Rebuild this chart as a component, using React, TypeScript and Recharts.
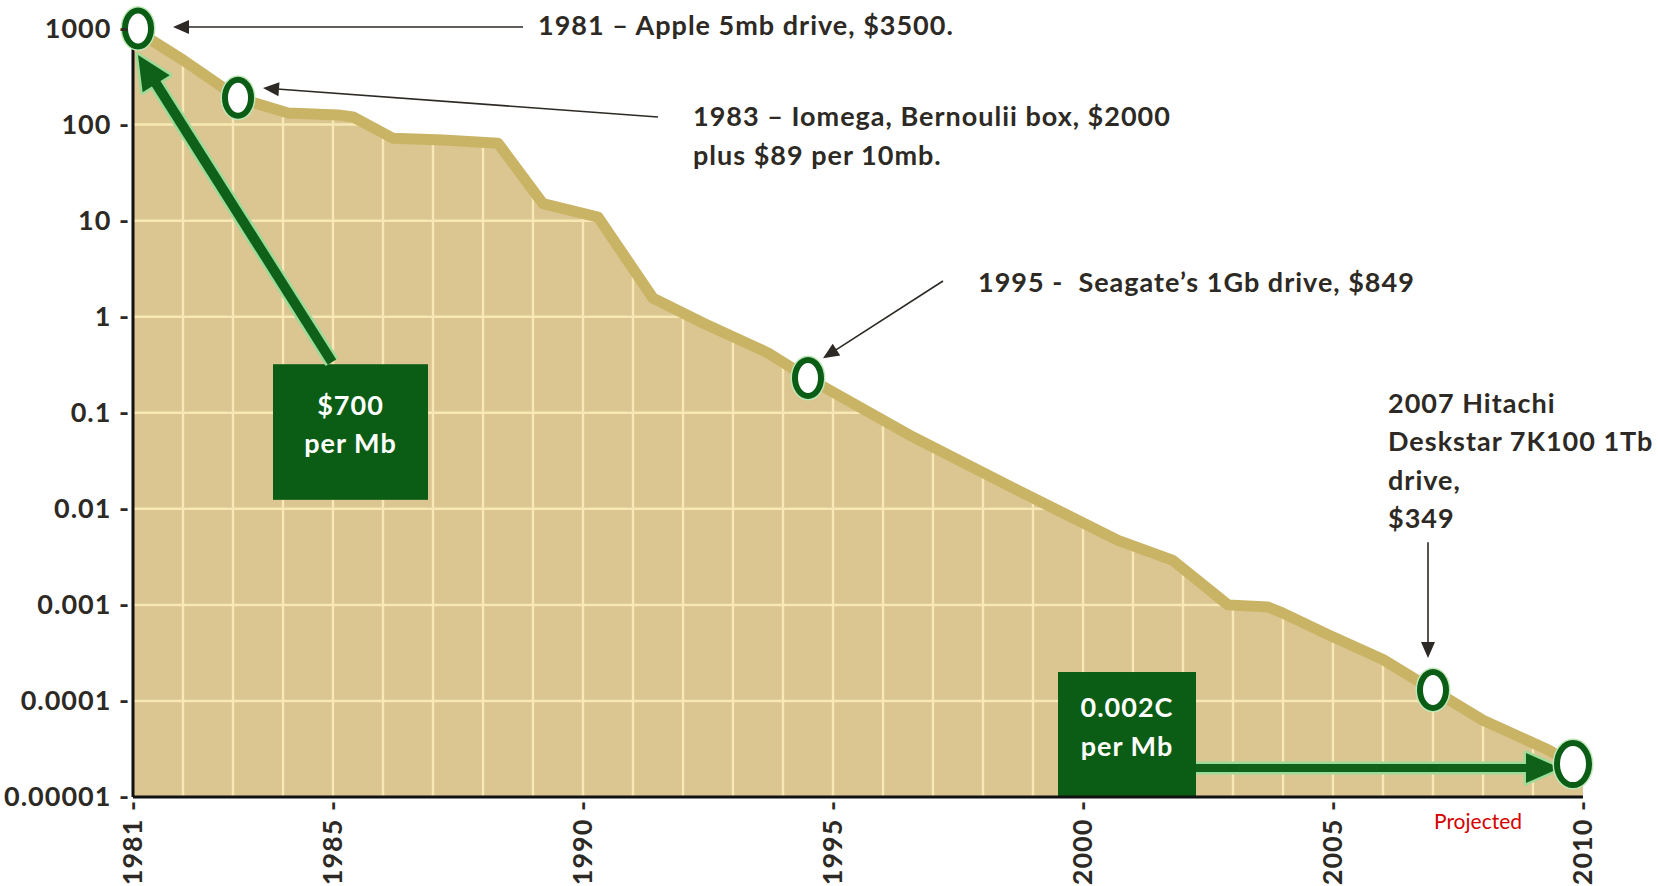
import React from 'react';
import {
  ComposedChart,
  Area,
  Line,
  Scatter,
  XAxis,
  YAxis,
  CartesianGrid,
  ReferenceLine,
  ReferenceArea,
  ReferenceDot,
} from 'recharts';

// price per megabyte (log scale)
const years = [
  1981, 1982, 1983.1, 1984.1, 1985.1, 1985.4, 1986.2, 1987.2, 1988.3, 1989.2, 1990.3, 1991.4, 1992.4, 1993.7,
  1994.5, 1996.6, 1998.6, 2000.7, 2001.8, 2002.9, 2003.7, 2004, 2004.9, 2006, 2007, 2008, 2009.3, 2009.8, 2010,
];
const pricePerMb = [
  1000, 470, 190, 132, 126, 120, 72, 69, 64, 15, 10.9, 1.56, 0.86, 0.42,
  0.23, 0.056, 0.0165, 0.0047, 0.0029, 0.001, 0.00095, 0.00082, 0.00049, 0.00027, 0.00013, 0.000063, 0.000031, 0.000022, 0.00002,
];

// highlighted drives
const milestoneYears = [1981.1, 1983.1, 1994.5, 2007, 2009.8];
const milestonePrices = [1000, 190, 0.23, 0.00013, 0.000022];

const xTicks = [1981, 1985, 1990, 1995, 2000, 2005, 2010];
const yTicks = [1000, 100, 10, 1, 0.1, 0.01, 0.001, 0.0001, 0.00001];
const yTickLabels = ['1000', '100', '10', '1', '0.1', '0.01', '0.001', '0.0001', '0.00001'];

const curve = years.map((year, i) => ({ year, price: pricePerMb[i] }));
const milestones = milestoneYears.map((year, i) => ({ year, price: milestonePrices[i] }));
const gridYears = Array.from({ length: 28 }, (_, i) => 1982 + i);

// callouts, in chart coordinates (year, $/Mb)
const notes = [
  { x: 1989.1, y: 1062, lines: ['1981 – Apple 5mb drive, $3500.'] },
  { x: 1992.2, y: 120, lines: ['1983 – Iomega, Bernoulii box, $2000', 'plus $89 per 10mb.'] },
  { x: 1997.9, y: 2.24, lines: ['1995 -\u00a0 Seagate’s 1Gb drive, $849'] },
  { x: 2006.1, y: 0.126, lines: ['2007 Hitachi', 'Deskstar 7K100 1Tb', 'drive,', '$349'] },
];
const pointers = [
  { from: { x: 1988.8, y: 1036 }, to: { x: 1981.8, y: 1036 } },
  { from: { x: 1991.5, y: 120 }, to: { x: 1983.6, y: 240 } },
  { from: { x: 1997.2, y: 2.35 }, to: { x: 1994.8, y: 0.37 } },
  { from: { x: 2006.9, y: 0.0045 }, to: { x: 2006.9, y: 0.00028 } },
];
const boxes = [
  { x1: 1983.8, x2: 1986.9, y1: 0.32, y2: 0.0124, lines: ['$700', 'per Mb'], top: 41 },
  { x1: 1999.5, x2: 2002.26, y1: 0.0002, y2: 0.00001, lines: ['0.002C', 'per Mb'], top: 36 },
];
const greenArrows = [
  { from: { x: 1984.98, y: 0.337 }, to: { x: 1981.1, y: 530 }, width: 10, head: 34, half: 16 },
  { from: { x: 2002.26, y: 0.00002 }, to: { x: 2009.54, y: 0.00002 }, width: 8, head: 34, half: 15 },
];

const INK = '#2d2924';
const TAN = '#dbc590';
const BAND = '#c9b466';
const GRID = '#f7e8b6';
const GREEN = '#0b5c14';
const FONT = 'Lato, "Open Sans", sans-serif';

const textStyle = { fontFamily: FONT, fontWeight: 700, fontSize: 27, letterSpacing: 1 };

const YTick = ({ x, y, payload }: any) => {
  const i = yTicks.indexOf(payload.value);
  const label = i >= 0 ? yTickLabels[i] : String(payload.value);
  return (
    <text x={x} y={y} dy="0.35em" textAnchor="end" fill={INK} style={textStyle}>
      {`${label} -`}
    </text>
  );
};

const XTick = ({ x, y, payload }: any) => (
  <text x={x} y={y} dy="0.35em" textAnchor="end" transform={`rotate(-90 ${x} ${y})`} fill={INK} style={textStyle}>
    {`${payload.value} -`}
  </text>
);

const arrowShape = (color: string, width: number, head: number, half: number, glow?: string) => (p: any) => {
  const { x1, y1, x2, y2 } = p;
  const len = Math.hypot(x2 - x1, y2 - y1) || 1;
  const ux = (x2 - x1) / len;
  const uy = (y2 - y1) / len;
  const bx = x2 - ux * head;
  const by = y2 - uy * head;
  const pts = `${x2},${y2} ${bx - uy * half},${by + ux * half} ${bx + uy * half},${by - ux * half}`;
  return (
    <g>
      {glow && <line x1={x1} y1={y1} x2={bx} y2={by} stroke={glow} strokeWidth={width + 5} />}
      {glow && <polygon points={pts} fill={glow} stroke={glow} strokeWidth={5} strokeLinejoin="round" />}
      <line x1={x1} y1={y1} x2={bx + ux * 2} y2={by + uy * 2} stroke={color} strokeWidth={width} />
      <polygon points={pts} fill={color} />
    </g>
  );
};

const noteShape = (lines: string[]) => (p: any) => (
  <text x={p.cx} y={p.cy} fill={INK} style={textStyle}>
    {lines.map((l, i) => (
      <tspan key={i} x={p.cx} dy={i === 0 ? '0.35em' : 38.5}>
        {l}
      </tspan>
    ))}
  </text>
);

const boxShape = (lines: string[], top: number) => (p: any) => {
  const cx = p.x + p.width / 2;
  return (
    <g>
      <rect x={p.x} y={p.y} width={p.width} height={p.height} fill={GREEN} />
      <text x={cx} y={p.y + top} textAnchor="middle" fill="#ffffff" style={textStyle}>
        {lines.map((l, i) => (
          <tspan key={i} x={cx} dy={i === 0 ? '0.35em' : 38.5}>
            {l}
          </tspan>
        ))}
      </text>
    </g>
  );
};

const Ring = (p: any) => {
  const big = p.payload && p.payload.year === milestoneYears[milestoneYears.length - 1];
  const rx = big ? 16 : 13;
  const ry = big ? 21 : 18;
  return (
    <g>
      <ellipse cx={p.cx} cy={p.cy} rx={rx + 3.5} ry={ry + 3.5} fill="none" stroke="#bfe8b8" strokeWidth={2} />
      <ellipse cx={p.cx} cy={p.cy} rx={rx} ry={ry} fill="#ffffff" stroke={GREEN} strokeWidth={6} />
    </g>
  );
};

const Projected = (p: any) => (
  <text x={p.cx} y={p.cy + 25} dy="0.35em" textAnchor="middle" fill="#d40000" style={{ fontFamily: FONT, fontSize: 21 }}>
    Projected
  </text>
);

export default function App() {
  return (
    <div style={{ position: 'absolute', left: 0, top: 0, width: 1658, height: 886, background: '#ffffff' }}>
      <ComposedChart width={1658} height={886} data={curve} margin={{ top: 28.5, right: 75, bottom: 9, left: 8 }}>
        <CartesianGrid
          fill={TAN}
          fillOpacity={1}
          stroke={GRID}
          strokeWidth={2.5}
          horizontalValues={yTicks.slice(1, -1)}
          verticalValues={gridYears}
        />
        <XAxis
          type="number"
          dataKey="year"
          domain={[1981, 2010]}
          ticks={xTicks}
          interval={0}
          height={80}
          tickSize={0}
          tickMargin={3}
          tickLine={false}
          tick={<XTick />}
          axisLine={{ stroke: '#111111', strokeWidth: 3 }}
        />
        <YAxis
          type="number"
          scale="log"
          domain={[0.00001, 1000]}
          ticks={yTicks}
          interval={0}
          width={125}
          tickSize={0}
          tickMargin={3}
          tickLine={false}
          tick={<YTick />}
          axisLine={{ stroke: '#111111', strokeWidth: 3 }}
        />
        {/* white sky above the curve hides the grid there */}
        <Area
          dataKey={(d: any) => [d.price, 1000]}
          fill="#ffffff"
          fillOpacity={1}
          stroke="#ffffff"
          strokeWidth={3}
          activeDot={false}
          isAnimationActive={false}
        />
        <Line
          dataKey="price"
          stroke={BAND}
          strokeWidth={11}
          strokeLinejoin="round"
          dot={false}
          activeDot={false}
          isAnimationActive={false}
        />
        {boxes.map((b, i) => (
          <ReferenceArea
            key={`box-${i}`}
            x1={b.x1}
            x2={b.x2}
            y1={b.y1}
            y2={b.y2}
            ifOverflow="visible"
            shape={boxShape(b.lines, b.top)}
          />
        ))}
        {greenArrows.map((a, i) => (
          <ReferenceLine
            key={`garrow-${i}`}
            segment={[a.from, a.to]}
            ifOverflow="visible"
            shape={arrowShape('#0f6119', a.width, a.head, a.half, '#9edb98')}
          />
        ))}
        {pointers.map((a, i) => (
          <ReferenceLine
            key={`ptr-${i}`}
            segment={[a.from, a.to]}
            ifOverflow="visible"
            shape={arrowShape(INK, 1.6, 16, 7)}
          />
        ))}
        {notes.map((n, i) => (
          <ReferenceDot key={`note-${i}`} x={n.x} y={n.y} r={0} ifOverflow="visible" shape={noteShape(n.lines)} />
        ))}
        <ReferenceDot x={2007.9} y={0.00001} r={0} ifOverflow="visible" shape={Projected} />
        <Scatter data={milestones} dataKey="price" shape={Ring} isAnimationActive={false} />
      </ComposedChart>
    </div>
  );
}
